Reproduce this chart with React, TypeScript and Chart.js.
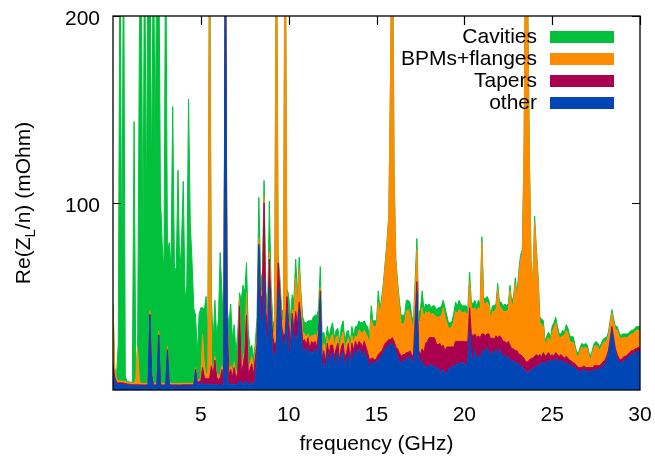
import { useEffect, useRef } from "react";
import { Chart, registerables } from "chart.js";

Chart.register(...registerables);

// Re(Z_L/n) contributions (mOhm), sampled every 0.1 GHz from 0 to 30 GHz
const OTHER = [
  10, 5, 3.5, 3, 3, 3, 3, 2.8, 2.6, 2.5,
  2.4, 2.3, 2.3, 2.3, 2.3, 2.3, 2.2, 2.2, 2.2, 2.2,
  2.2, 40, 8, 2.2, 2.2, 2.2, 29, 3, 2.2, 2.2,
  2.2, 21, 2.5, 2.2, 2.2, 2.2, 2.2, 2.2, 2.2, 2.2,
  2.2, 2.2, 2.2, 2.2, 2.2, 2.2, 2.2, 10, 3, 3,
  3, 4, 3, 3, 3, 3, 3, 3, 3, 3,
  2.5, 2.5, 3, 2.5, 250, 6, 3, 3, 3, 3,
  3, 3, 5, 4, 3, 4, 5, 3, 3, 4,
  3, 5, 20, 77, 40, 30, 60, 30, 22, 55,
  35, 20, 18, 20, 55, 45, 28, 24, 25, 42,
  20, 20, 38, 22, 30, 25, 43, 30, 20, 22,
  20, 23, 18, 21, 19, 22, 18, 24, 49, 12,
  15, 10, 20, 14, 18, 20, 13, 17, 20, 12,
  18, 20, 12, 16, 19, 12, 20, 15, 22, 18,
  22, 20, 17, 21, 18, 16, 12, 14, 15, 14,
  15, 16, 17, 18, 20, 22, 23, 24, 24, 25,
  23, 20, 18, 15, 14, 16, 15, 17, 16, 18,
  15, 14, 30, 52, 17, 14, 16, 12, 13, 12,
  13, 14, 12, 13, 11, 12, 10, 9, 11, 9,
  9, 11, 12, 13, 12, 14, 13, 15, 14, 15,
  14, 13, 16, 32, 18, 16, 22, 15, 19, 16,
  20, 22, 19, 23, 20, 18, 21, 19, 22, 18,
  22, 20, 17, 19, 16, 18, 16, 15, 16, 14,
  15, 13, 13, 12, 11, 10, 9, 10, 11, 11,
  12, 13, 13, 14, 14, 15, 14, 15, 16, 15,
  16, 15, 17, 16, 15, 16, 15, 14, 15, 14,
  13, 13, 12, 12, 11, 10, 10, 10, 11, 10,
  10, 10, 10, 10, 11, 11, 11, 11, 12, 13,
  14, 16, 19, 25, 32, 26, 20, 17, 15, 14,
  15, 16, 16, 17, 18, 19, 19, 20, 20, 21,
  20,
];

const TAPERS = [
  4, 2, 1, 0.8, 0.8, 0.8, 0.7, 0.7, 0.6, 0.6,
  0.5, 0.5, 0.5, 0.5, 0.5, 0.5, 0.5, 0.5, 0.5, 0.5,
  0.5, 0.5, 0.5, 0.5, 0.5, 0.5, 0.5, 0.5, 0.5, 0.5,
  0.5, 0.5, 0.5, 0.5, 0.5, 0.5, 0.5, 0.5, 0.5, 0.5,
  0.6, 0.6, 0.6, 0.6, 0.6, 0.6, 0.6, 1, 1, 1.5,
  2, 8, 4, 3, 3, 3, 10, 5, 13, 4,
  3, 4, 8, 3, 2, 32, 5, 8, 4, 9,
  3, 6, 40, 6, 10, 15, 35, 6, 8, 10,
  5, 12, 5, 1, 10, 20, 40, 12, 10, 15,
  8, 8, 6, 6, 13, 8, 6, 5, 5, 8,
  16, 5, 3, 10, 12, 10, 4, 8, 6, 5,
  4, 5, 4, 5, 6, 4, 5, 6, 4, 4,
  6, 5, 5, 5, 6, 4, 5, 5, 5, 4,
  5, 5, 5, 4, 6, 4, 5, 6, 4, 5,
  4, 5, 6, 5, 5, 4, 4, 3, 2, 2,
  2, 3, 3, 3, 3, 3, 3, 3, 3, 3,
  3, 3, 4, 5, 4, 3, 4, 3, 4, 3,
  4, 4, 8, 6, 4, 5, 6, 8, 12, 14,
  15, 14, 16, 15, 14, 12, 15, 14, 13, 12,
  14, 12, 11, 10, 11, 12, 13, 11, 12, 11,
  12, 13, 10, 12, 12, 13, 8, 13, 10, 12,
  10, 8, 10, 7, 10, 9, 7, 8, 7, 10,
  7, 8, 9, 7, 9, 8, 8, 7, 6, 7,
  6, 6, 6, 6, 6, 5, 6, 6, 6, 6,
  6, 6, 5, 5, 4, 5, 4, 4, 4, 3,
  3, 3, 3, 3, 3, 3, 3, 3, 3, 3,
  3, 2.5, 2.5, 2, 2, 2, 2, 2, 2, 2,
  2, 2, 2, 2, 2, 2, 2, 2, 2, 2,
  2, 2, 2, 2, 2, 2, 2, 2, 2, 2,
  2, 2, 2, 2, 2, 2, 2, 2, 2, 2,
  2,
];

const BPMS = [
  30, 4, 1.5, 1, 1, 1, 1, 1, 0.8, 0.8,
  0.8, 0.8, 0.8, 3, 20, 2, 0.8, 0.8, 0.8, 0.8,
  0.8, 2, 1, 0.8, 0.8, 0.8, 2, 0.8, 0.8, 0.8,
  0.8, 2, 0.8, 0.8, 0.8, 0.8, 0.8, 0.8, 0.8, 0.8,
  0.8, 0.8, 0.8, 0.8, 0.8, 0.8, 0.8, 1, 1, 1,
  1, 18, 6, 2, 3, 250, 2, 2, 2, 2,
  2, 2, 2, 2, 1, 2, 3, 2, 2, 3,
  2, 3, 4, 3, 3, 3, 12, 3, 3, 4,
  3, 4, 4, 3, 3, 3, 3, 3, 3, 4,
  4, 3, 5, 250, 2, 3, 3, 8, 250, 2,
  2, 5, 2, 8, 18, 10, 18, 10, 5, 3,
  4, 2, 5, 3, 4, 4, 5, 3, 2, 6,
  4, 5, 4, 5, 4, 6, 5, 6, 4, 4,
  5, 6, 4, 5, 3, 5, 4, 4, 3, 5,
  6, 6, 7, 6, 7, 8, 8, 21, 17, 18,
  17, 28, 20, 26, 33, 42, 52, 65, 140, 250,
  90, 45, 33, 24, 18, 16, 17, 22, 23, 20,
  17, 14, 15, 17, 15, 18, 22, 18, 17, 15,
  14, 12, 13, 12, 14, 15, 14, 17, 20, 18,
  13, 10, 10, 11, 14, 16, 15, 17, 16, 15,
  16, 15, 14, 14, 14, 14, 14, 14, 15, 15,
  49, 16, 17, 17, 15, 10, 14, 15, 14, 26,
  15, 16, 16, 16, 17, 17, 29, 22, 25, 36,
  27, 42, 50, 55, 110, 250, 200, 110, 50, 38,
  72, 55, 40, 17, 17, 14, 6, 7, 8, 7,
  12, 15, 16, 12, 10, 9, 11, 12, 14, 13,
  10, 10, 11, 8, 5, 6, 9, 11, 9, 11,
  10, 6, 4, 8, 10, 11, 10, 8, 9, 10,
  10, 8, 8, 8, 7, 8, 10, 13, 12, 11,
  11, 10, 10, 9, 9, 9, 9, 9, 10, 9,
  10,
];

const CAVITIES = [
  2, 1, 1, 20, 250, 40, 250, 3, 0.5, 0.5,
  0.5, 0.5, 140, 0.5, 0.5, 180, 250, 60, 250, 90,
  250, 200, 100, 250, 120, 250, 220, 100, 75, 60,
  250, 50, 75, 62, 148, 60, 62, 114, 58, 75,
  108, 45, 52, 152, 85, 65, 40, 28, 14, 35,
  38, 14, 30, 42, 20, 2, 35, 15, 30, 20,
  30, 65, 40, 20, 1, 3, 24, 33, 18, 20,
  12, 18, 3, 35, 40, 30, 16, 20, 8, 6,
  6, 4, 10, 22, 10, 5, 9, 8, 6, 27,
  8, 6, 6, 2, 2, 4, 6, 5, 2, 2,
  13, 8, 8, 8, 10, 5, 6, 4, 8, 6,
  8, 7, 10, 8, 10, 10, 12, 10, 11, 8,
  6, 6, 5, 4, 5, 6, 5, 4, 4, 6,
  6, 6, 5, 6, 4, 4, 5, 4, 5, 6,
  5, 5, 6, 5, 5, 6, 4, 7, 3, 3,
  3, 6, 3, 3, 2, 2, 2, 2, 2, 2,
  2, 2, 3, 4, 4, 5, 4, 6, 5, 6,
  4, 4, 6, 6, 5, 6, 9, 5, 4, 4,
  4, 4, 4, 5, 4, 5, 5, 5, 4, 5,
  4, 3, 3, 3, 4, 5, 4, 5, 4, 4,
  3, 4, 4, 5, 3, 3, 4, 3, 4, 3,
  3, 3, 3, 3, 3, 3, 3, 3, 3, 3,
  3, 3, 3, 4, 3, 3, 3, 3, 3, 3,
  3, 3, 3, 2, 2, 2, 2, 2, 2, 2,
  3, 2, 3, 3, 3, 3, 2, 3, 3, 3,
  3, 3, 3, 3, 2, 2, 3, 2, 3, 3,
  3, 3, 3, 2, 2, 2, 2, 2, 2, 2,
  2, 2, 2, 2, 2, 2, 2, 2, 2, 2,
  2, 2, 2, 2, 2, 2, 2, 2, 2, 2,
  2, 2, 2, 2, 2, 2, 2, 2, 2, 2,
  2,
];

const FREQ_STEP_GHZ = 0.1;
const FREQ = OTHER.map((_, i) => Math.round(i * FREQ_STEP_GHZ * 10) / 10);

const X_TICKS = [5, 10, 15, 20, 25, 30];
const Y_TICKS = [100, 200];

const COLOR_CAV = "#00c03c";
const COLOR_BPM = "#ff8c00";
const COLOR_TAP = "#aa0050";
const COLOR_OTH = "#0046b4";

const LEGEND = [
  { label: "Cavities", color: COLOR_CAV },
  { label: "BPMs+flanges", color: COLOR_BPM },
  { label: "Tapers", color: COLOR_TAP },
  { label: "other", color: COLOR_OTH },
];

const FONT = '"Liberation Sans", Arial, Helvetica, sans-serif';

export default function App() {
  const canvasRef = useRef<HTMLCanvasElement | null>(null);

  useEffect(() => {
    const canvas = canvasRef.current;
    if (!canvas) return;

    const pts = (vals: number[]) => vals.map((y, i) => ({ x: FREQ[i], y }));

    const gnuplotDecor = {
      id: "gnuplotDecor",
      afterDraw(chart: any) {
        const ctx = chart.ctx as CanvasRenderingContext2D;
        const a = chart.chartArea;
        const xs = chart.scales.x;
        const ys = chart.scales.y;
        ctx.save();

        // frame
        ctx.strokeStyle = "#000";
        ctx.lineWidth = 1.3;
        ctx.strokeRect(a.left, a.top, a.right - a.left, a.bottom - a.top);

        // inward tick marks (top and sides)
        ctx.lineWidth = 1.2;
        ctx.beginPath();
        X_TICKS.forEach((v) => {
          const px = Math.round(xs.getPixelForValue(v)) + 0.5;
          ctx.moveTo(px, a.top);
          ctx.lineTo(px, a.top + 9);
        });
        Y_TICKS.forEach((v) => {
          const py = Math.round(ys.getPixelForValue(v)) + 0.5;
          ctx.moveTo(a.left, py);
          ctx.lineTo(a.left + 8, py);
          ctx.moveTo(a.right, py);
          ctx.lineTo(a.right - 8, py);
        });
        ctx.stroke();

        // tick labels
        ctx.fillStyle = "#000";
        ctx.font = `21px ${FONT}`;
        ctx.textBaseline = "alphabetic";
        ctx.textAlign = "center";
        X_TICKS.forEach((v) => {
          ctx.fillText(String(v), xs.getPixelForValue(v), a.bottom + 31);
        });
        ctx.textAlign = "right";
        Y_TICKS.forEach((v) => {
          ctx.fillText(String(v), a.left - 13, ys.getPixelForValue(v) + 9);
        });

        // x title
        ctx.textAlign = "center";
        ctx.fillText("frequency (GHz)", (a.left + a.right) / 2, a.bottom + 60);

        // y title with subscript
        const p1 = "Re(Z";
        const sub = "L";
        const p2 = "/n) (mOhm)";
        ctx.font = `21px ${FONT}`;
        const w1 = ctx.measureText(p1).width;
        const w3 = ctx.measureText(p2).width;
        ctx.font = `15px ${FONT}`;
        const w2 = ctx.measureText(sub).width;
        const total = w1 + w2 + w3;
        ctx.translate(30, (a.top + a.bottom) / 2);
        ctx.rotate(-Math.PI / 2);
        ctx.textAlign = "left";
        let x0 = -total / 2;
        ctx.font = `21px ${FONT}`;
        ctx.fillText(p1, x0, 0);
        x0 += w1;
        ctx.font = `15px ${FONT}`;
        ctx.fillText(sub, x0, 5);
        x0 += w2;
        ctx.font = `21px ${FONT}`;
        ctx.fillText(p2, x0, 0);
        ctx.setTransform(1, 0, 0, 1, 0, 0);

        // legend
        ctx.font = `21px ${FONT}`;
        ctx.textAlign = "right";
        LEGEND.forEach((item, i) => {
          const base = a.top + 27 + i * 22;
          ctx.fillStyle = "#000";
          ctx.fillText(item.label, a.right - 103, base);
          ctx.fillStyle = item.color;
          ctx.fillRect(a.right - 90, base - 12, 64, 12);
        });

        ctx.restore();
      },
    };

    const chart = new Chart(canvas, {
      type: "line",
      data: {
        datasets: [
          {
            label: "other",
            data: pts(OTHER),
            borderColor: COLOR_OTH,
            backgroundColor: COLOR_OTH,
            fill: "origin",
          },
          {
            label: "Tapers",
            data: pts(TAPERS),
            borderColor: COLOR_TAP,
            backgroundColor: COLOR_TAP,
            fill: "-1",
          },
          {
            label: "BPMs+flanges",
            data: pts(BPMS),
            borderColor: COLOR_BPM,
            backgroundColor: COLOR_BPM,
            fill: "-1",
          },
          {
            label: "Cavities",
            data: pts(CAVITIES),
            borderColor: COLOR_CAV,
            backgroundColor: COLOR_CAV,
            fill: "-1",
          },
        ],
      },
      options: {
        responsive: false,
        maintainAspectRatio: false,
        devicePixelRatio: 1,
        animation: false,
        events: [],
        layout: { padding: { left: 113, right: 15, top: 16, bottom: 70 } },
        elements: {
          point: { radius: 0, hoverRadius: 0 },
          line: { borderWidth: 1, tension: 0 },
        },
        scales: {
          x: { type: "linear", min: 0, max: 30, display: false },
          y: { min: 0, max: 200, stacked: true, display: false },
        },
        plugins: {
          legend: { display: false },
          tooltip: { enabled: false },
        },
      },
      plugins: [gnuplotDecor],
    });

    return () => chart.destroy();
  }, []);

  return (
    <div style={{ position: "absolute", left: 0, top: 0, width: 655, height: 460, background: "#fff" }}>
      <canvas ref={canvasRef} width={655} height={460} style={{ display: "block" }} />
    </div>
  );
}
